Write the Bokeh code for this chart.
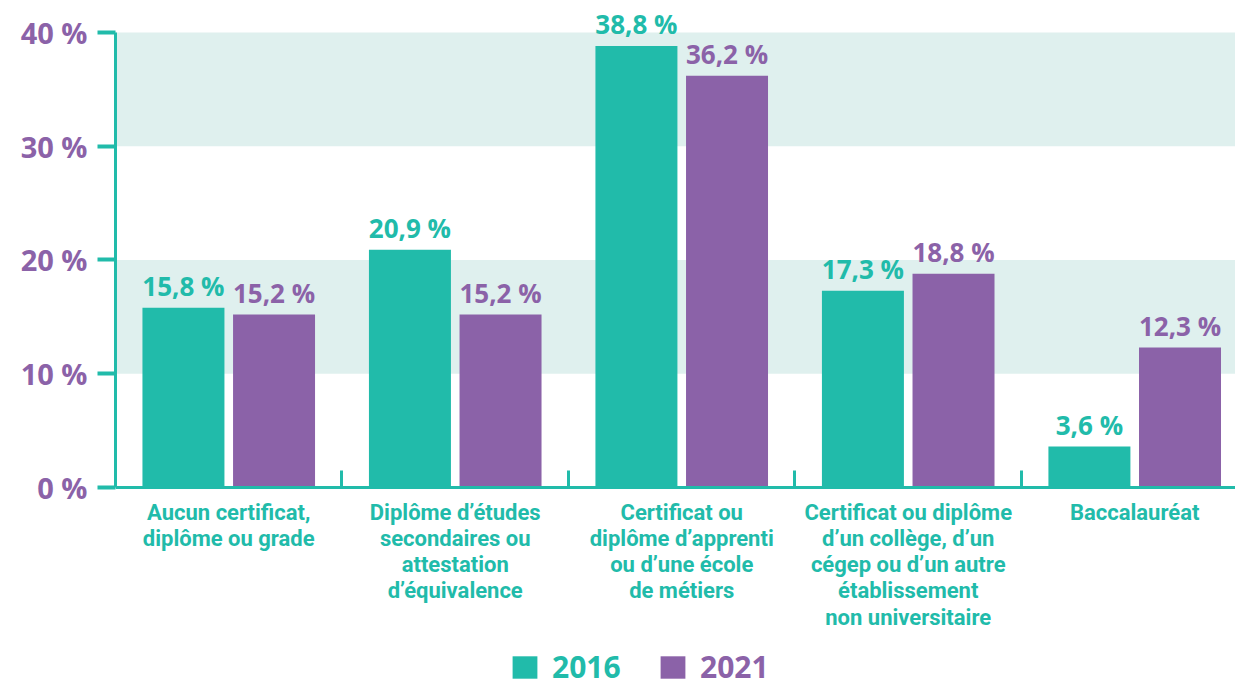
from bokeh.plotting import figure
from bokeh.models import (ColumnDataSource, Range1d, FixedTicker, BoxAnnotation,
                          LabelSet, Legend, LegendItem)
from bokeh.core.properties import value
from bokeh.embed import file_html
from bokeh.resources import INLINE

categories = [
    "Aucun certificat,\ndiplôme ou grade",
    "Diplôme d’études\nsecondaires ou\nattestation\nd’équivalence",
    "Certificat ou\ndiplôme d’apprenti\nou d’une école\nde métiers",
    "Certificat ou diplôme\nd’un collège, d’un\ncégep ou d’un autre\nétablissement\nnon universitaire",
    "Baccalauréat",
]
values_2016 = [15.8, 20.9, 38.8, 17.3, 3.6]
values_2021 = [15.2, 15.2, 36.2, 18.8, 12.3]
y_ticks = [0, 10, 20, 30, 40]
series_names = ["2016", "2021"]

TEAL = "#21bbaa"
PURPLE = "#8b62a8"
BAND = "#dff0ee"

def fmt(v):
    return f"{v:.1f}".replace(".", ",") + " %"

n = len(categories)
centers = [i + 0.5 for i in range(n)]
x16 = [c - 0.2 for c in centers]
x21 = [c + 0.2 for c in centers]

src16 = ColumnDataSource(dict(x=x16, top=values_2016, label=[fmt(v) for v in values_2016]))
src21 = ColumnDataSource(dict(x=x21, top=values_2021, label=[fmt(v) for v in values_2021]))

p = figure(width=1235, height=687, output_backend="svg", toolbar_location=None,
           x_range=Range1d(0, 4.945), y_range=Range1d(-17.58, 42.81),
           min_border_left=115, min_border_right=0, min_border_top=0,
           min_border_bottom=0)
p.outline_line_color = None
p.grid.visible = False
p.background_fill_color = "white"

for lo, hi in [(10, 20), (30, 40)]:
    p.add_layout(BoxAnnotation(bottom=lo, top=hi, fill_color=BAND, fill_alpha=1.0,
                               line_color=None, level="underlay"))

r16 = p.vbar(x="x", top="top", width=0.362, bottom=0, source=src16, color=TEAL, line_color=None)
r21 = p.vbar(x="x", top="top", width=0.362, bottom=0, source=src21, color=PURPLE, line_color=None)

for src, col in [(src16, TEAL), (src21, PURPLE)]:
    p.add_layout(LabelSet(x="x", y="top", text="label", source=src, y_offset=4,
                          text_align="center", text_baseline="bottom",
                          text_color=col, text_font=value("Open Sans"),
                          text_font_style="bold", text_font_size="26px"))

# y axis
ya = p.yaxis[0]
ya.bounds = (0, 40)
ya.ticker = FixedTicker(ticks=y_ticks, minor_ticks=[])
ya.major_label_overrides = {t: f"{t} %" for t in y_ticks}
ya.axis_line_color = TEAL
ya.axis_line_width = 3
ya.major_tick_line_color = TEAL
ya.major_tick_line_width = 4
ya.major_tick_out = 18
ya.major_tick_in = 0
ya.minor_tick_line_color = None
ya.major_label_standoff = 10
ya.major_label_text_color = PURPLE
ya.major_label_text_font = "Open Sans"
ya.major_label_text_font_style = "bold"
ya.major_label_text_font_size = "29px"

# x axis, fixed at y = 0
xa = p.xaxis[0]
xa.fixed_location = 0
xa.ticker = FixedTicker(ticks=centers, minor_ticks=[float(i) for i in range(1, n)])
xa.major_label_overrides = {c: lab for c, lab in zip(centers, categories)}
xa.axis_line_color = TEAL
xa.axis_line_width = 3
xa.major_tick_line_color = None
xa.major_tick_out = 0
xa.major_tick_in = 0
xa.minor_tick_line_color = TEAL
xa.minor_tick_line_width = 3
xa.minor_tick_in = 17
xa.minor_tick_out = 0
xa.major_label_standoff = 12
xa.major_label_text_color = TEAL
xa.major_label_text_font = "Roboto"
xa.major_label_text_font_style = "bold"
xa.major_label_text_font_size = "22px"
xa.major_label_text_line_height = 1.05

# legends (one per series, each label in its colour)
for r, name, col, xloc in [(r16, series_names[0], TEAL, 394), (r21, series_names[1], PURPLE, 542)]:
    lg = Legend(items=[LegendItem(label=name, renderers=[r])], location=(xloc, 0),
                orientation="horizontal", padding=0, margin=0, spacing=0,
                glyph_width=31, glyph_height=28, label_standoff=12,
                label_text_color=col, label_text_font="Open Sans",
                label_text_font_style="bold", label_text_font_size="30px",
                label_height=28, background_fill_alpha=0, border_line_color=None)
    p.add_layout(lg, "center")

open("out.html", "w").write(file_html(p, INLINE))
